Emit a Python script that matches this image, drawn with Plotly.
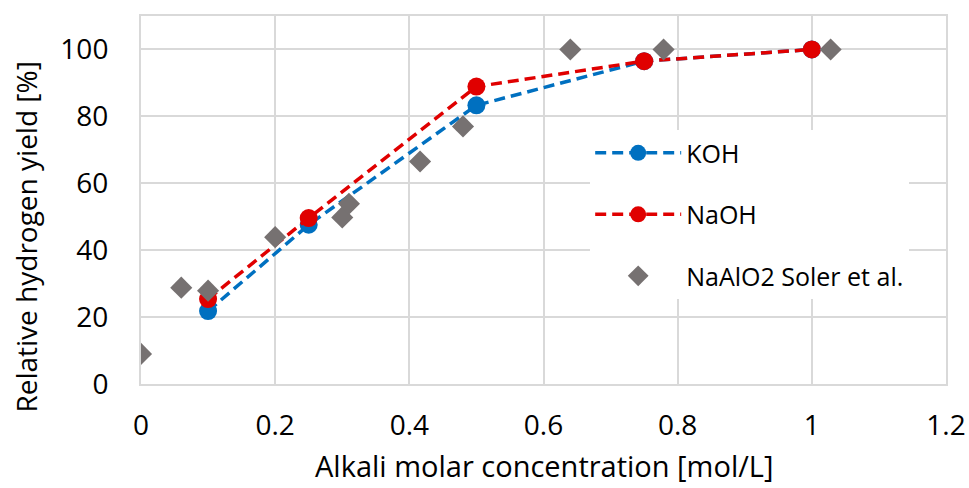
import plotly.graph_objects as go

koh_x = [0.1, 0.25, 0.5, 0.75, 1.0]
koh_y = [21.8, 47.6, 83.3, 96.5, 100.0]
naoh_x = [0.1, 0.25, 0.5, 0.75, 1.0]
naoh_y = [25.4, 49.6, 88.9, 96.5, 100.0]
soler_x = [0.0, 0.06, 0.1, 0.2, 0.3, 0.31, 0.416, 0.48, 0.64, 0.779, 1.028]
soler_y = [9.0, 28.8, 27.9, 43.9, 49.8, 53.9, 66.5, 77.0, 100.0, 100.0, 100.0]
x_ticks = [0, 0.2, 0.4, 0.6, 0.8, 1.0, 1.2]
x_ticklabels = ["0", "0.2", "0.4", "0.6", "0.8", "1", "1.2"]
y_ticks = [0, 20, 40, 60, 80, 100]

FONT = "Open Sans"
grid = "#d9d9d9"

fig = go.Figure()
fig.add_trace(go.Scatter(
    x=koh_x, y=koh_y, mode="lines+markers", name="KOH", legendgroup="a",
    line=dict(color="#0070C0", width=3.5, dash="11px,6px"),
    marker=dict(color="#0070C0", size=18, symbol="circle")))
fig.add_trace(go.Scatter(
    x=naoh_x, y=naoh_y, mode="lines+markers", name="NaOH", legendgroup="b",
    line=dict(color="#E00000", width=3.5, dash="11px,6px"),
    marker=dict(color="#E00000", size=18, symbol="circle")))
fig.add_trace(go.Scatter(
    x=soler_x, y=soler_y, mode="markers", name="NaAlO2 Soler et al.", legendgroup="c",
    marker=dict(color="#767171", size=17, symbol="diamond")))

fig.update_layout(
    width=969, height=488,
    margin=dict(l=141, r=23, t=16, b=104),
    paper_bgcolor="white", plot_bgcolor="white",
    font=dict(family=FONT, size=25, color="#000000"),
    showlegend=True,
    legend=dict(x=0.558, y=0.69, xanchor="left", yanchor="top",
                bgcolor="white", borderwidth=0,
                font=dict(size=25, family=FONT),
                itemwidth=86, tracegroupgap=26, traceorder="grouped"),
    xaxis=dict(range=[0, 1.2], tickvals=x_ticks, ticktext=x_ticklabels,
               showgrid=True, gridcolor=grid, gridwidth=2,
               showline=True, linecolor=grid, linewidth=2, mirror=True,
               zeroline=False, ticks="", ticklabelstandoff=15,
               tickfont=dict(size=28, family=FONT), automargin=False),
    yaxis=dict(range=[0, 110], tickvals=y_ticks,
               showgrid=True, gridcolor=grid, gridwidth=2,
               showline=True, linecolor=grid, linewidth=2, mirror=True,
               zeroline=False, ticks="", ticklabelstandoff=25,
               tickfont=dict(size=28, family=FONT), automargin=False),
    annotations=[
        dict(text="Alkali molar concentration [mol/L]", x=0.5, y=-0.222,
             xref="paper", yref="paper", xanchor="center", yanchor="middle",
             showarrow=False, font=dict(size=29, family=FONT)),
        dict(text="Relative hydrogen yield [%]", x=-0.144, y=0.398,
             xref="paper", yref="paper", xanchor="center", yanchor="middle",
             textangle=-90, showarrow=False, font=dict(size=28, family=FONT)),
    ],
)

fig.write_html("out.html")
